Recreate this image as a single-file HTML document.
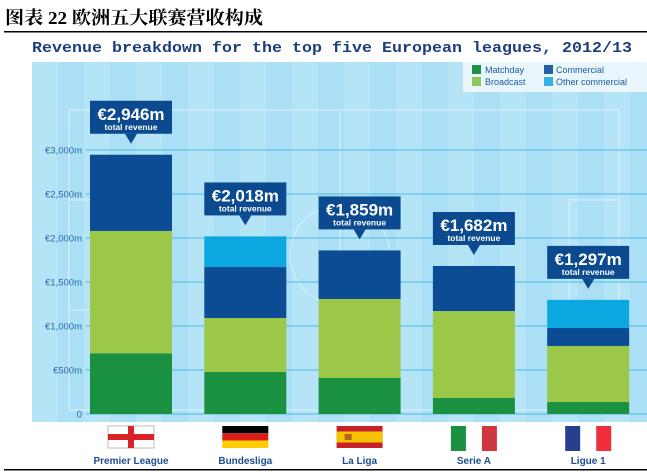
<!DOCTYPE html>
<html><head><meta charset="utf-8">
<style>
body{margin:0;width:647px;height:472px;background:#fff;overflow:hidden;font-family:"Liberation Sans",sans-serif}
svg{display:block}
</style></head>
<body>
<svg id="chart" width="647" height="472" xmlns="http://www.w3.org/2000/svg">
  <text x="5" y="24" textLength="258" lengthAdjust="spacingAndGlyphs" font-family="'Liberation Serif','Noto Serif CJK SC',serif" font-weight="bold" font-size="18" fill="#000">图表 22 欧洲五大联赛营收构成</text>
  <rect x="4" y="31" width="643" height="1.5" fill="#000"/>
  <text x="32" y="52" textLength="600" lengthAdjust="spacingAndGlyphs" font-family="'Liberation Mono',monospace" font-weight="bold" font-size="15" fill="#1d3d7c">Revenue breakdown for the top five European leagues, 2012/13</text>
  <rect x="32" y="62" width="615" height="360" fill="#aadff5"/>
  <g id="stripes"></g>
  <g id="pitch" fill="none" stroke="#d6effa" stroke-width="1.5" opacity="0.8">
    <rect x="69" y="110" width="550" height="300"/>
    <line x1="340" y1="110" x2="340" y2="410"/>
    <circle cx="340" cy="255" r="50"/>
    <rect x="69" y="200" width="50" height="110"/>
    <rect x="569" y="200" width="50" height="110"/>
  </g>
  <g id="grid"></g>
  <g id="bars"></g>
  <g id="labels"></g>
  <g>
    <rect x="463" y="62" width="184" height="30" fill="#eef8fd" opacity="0.9"/>
    <rect x="472" y="65" width="9" height="9" fill="#1f9146"/>
    <text x="485" y="73" font-size="9" fill="#1e5aa0">Matchday</text>
    <rect x="472" y="77" width="9" height="9" fill="#8fc85a"/>
    <text x="485" y="85" font-size="9" fill="#1e5aa0">Broadcast</text>
    <rect x="544" y="65" width="9" height="9" fill="#2460a6"/>
    <text x="556" y="73" font-size="9" fill="#1e5aa0">Commercial</text>
    <rect x="544" y="77" width="9" height="9" fill="#35b2e6"/>
    <text x="556" y="85" font-size="9" fill="#1e5aa0">Other commercial</text>
  </g>
  <g id="flags"></g>
  <rect x="4" y="469" width="643" height="1.5" fill="#000"/>
</svg>
<script>
const leagues=["Premier League","Bundesliga","La Liga","Serie A","Ligue 1"];
const matchday=[690,477,409,182,136];
const broadcast=[1390,614,898,988,637];
const commercial=[866,579,552,512,204];
const otherCommercial=[0,348,0,0,320];
const totalLabels=["€2,946m","€2,018m","€1,859m","€1,682m","€1,297m"];
const yTicks=[0,500,1000,1500,2000,2500,3000];
const yTickLabels=["0","€500m","€1,000m","€1,500m","€2,000m","€2,500m","€3,000m"];

const NS="http://www.w3.org/2000/svg";
function mk(tag,attrs,parent){const e=document.createElementNS(NS,tag);for(const k in attrs)e.setAttribute(k,attrs[k]);parent.appendChild(e);return e;}
const y=v=>414-v*0.088;
const x=i=>90+i*114.3;
const bw=82;

const stripes=document.getElementById('stripes');
for(let i=0;i<12;i++){
  const r=mk('rect',{x:32+i*52,y:62,width:26,height:360,fill:'#b6e4f7'},stripes);
  
  
}
const grid=document.getElementById('grid');
yTicks.forEach((t,i)=>{
  const l=mk('line',{x1:86,x2:647,y1:y(t),y2:y(t),stroke:'#62c0ea','stroke-width':1.2},grid);
  
  
  const tx=mk('text',{x:82,y:y(t)+3.5,'text-anchor':'end','font-size':'9.5',fill:'#2a6aa8'},grid);
  tx.textContent=yTickLabels[i];
  
  
});
const bars=document.getElementById('bars');
const labels=document.getElementById('labels');
const series=[[matchday,'#1a9140','matchday'],[broadcast,'#9cc84a','broadcast'],[commercial,'#0b4c95','commercial'],[otherCommercial,'#0aa7e0','other-commercial']];
leagues.forEach((lg,i)=>{
  let cum=0;
  series.forEach(([arr,col,nm])=>{
    const v=arr[i]; if(v<=0)return;
    const r=mk('rect',{x:x(i),y:y(cum+v),width:bw,height:y(cum)-y(cum+v),fill:col},bars);
    
    
    cum+=v;
  });
  const top=y(cum);
  const g=mk('g',{},labels);
  
  
  const bx=x(i), by=top-54;
  mk('rect',{x:bx,y:by,width:bw,height:33,fill:'#0b4a8f'},g);
  const cx=bx+bw/2;
  mk('path',{d:`M${cx-6} ${by+33} L${cx+6} ${by+33} L${cx} ${by+43} Z`,fill:'#0b4a8f'},g);
  const t1=mk('text',{x:cx,y:by+19,'text-anchor':'middle','font-size':'17','font-weight':'bold',fill:'#fff'},g);
  t1.textContent=totalLabels[i];
  const t2=mk('text',{x:cx,y:by+29,'text-anchor':'middle','font-size':'8.5','font-weight':'bold',fill:'#fff'},g);
  t2.textContent='total revenue';
});
const flags=document.getElementById('flags');
leagues.forEach((lg,i)=>{
  const cx=x(i)+bw/2;
  const g=mk('g',{},flags);
  
  
  const fx=cx-23,fy=426,fw=46,fh=22;
  if(i===0){mk('rect',{x:fx,y:fy,width:fw,height:fh,fill:'#fff',stroke:'#bbb'},g);mk('rect',{x:fx,y:fy+8,width:fw,height:6,fill:'#d8232a'},g);mk('rect',{x:cx-3,y:fy,width:6,height:fh,fill:'#d8232a'},g);}
  if(i===1){mk('rect',{x:fx,y:fy,width:fw,height:7.3,fill:'#000'},g);mk('rect',{x:fx,y:fy+7.3,width:fw,height:7.3,fill:'#dd1c1c'},g);mk('rect',{x:fx,y:fy+14.6,width:fw,height:7.4,fill:'#ffce00'},g);}
  if(i===2){mk('rect',{x:fx,y:fy,width:fw,height:fh,fill:'#c8202c'},g);mk('rect',{x:fx,y:fy+5.5,width:fw,height:11,fill:'#f5c400'},g);mk('rect',{x:fx+8,y:fy+8,width:7,height:6,fill:'#b5651d'},g);}
  if(i===3){mk('rect',{x:fx,y:fy,width:15,height:fh+3,fill:'#1a9140'},g);mk('rect',{x:fx+31,y:fy,width:15,height:fh+3,fill:'#d0343c'},g);}
  if(i===4){mk('rect',{x:fx,y:fy,width:15,height:fh+3,fill:'#263f8f'},g);mk('rect',{x:fx+31,y:fy,width:15,height:fh+3,fill:'#ee2e3a'},g);}
  const t=mk('text',{x:cx,y:464,'text-anchor':'middle','font-size':'10','font-weight':'bold',fill:'#1d4b8f'},flags);
  t.textContent=lg;
  
  
});
</script>
</body></html>
